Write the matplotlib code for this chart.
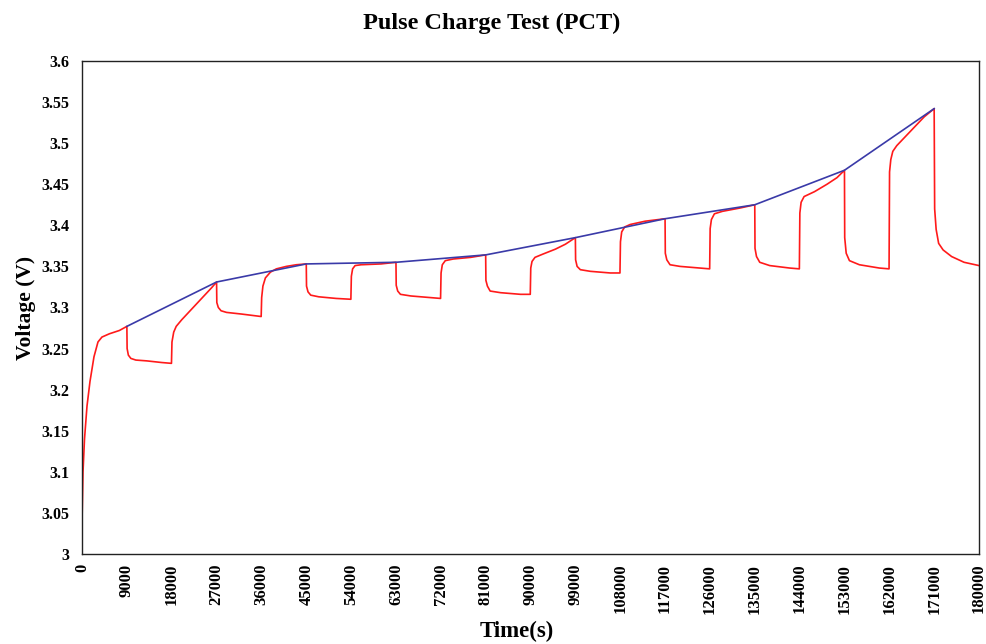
import matplotlib
matplotlib.use("Agg")
import matplotlib.pyplot as plt

plt.rcParams['font.family'] = ['Liberation Serif', 'DejaVu Serif']

# cell voltage during pulse charging (time in s, voltage in V)
time_s = [
    0, 200, 500, 1000, 1600, 2400, 3200, 4000, 5500, 7500, 9000,
    9050, 9300, 9800, 10800, 13000, 16000, 17950,
    18050, 18400, 18900, 20000, 22000, 24000, 26000, 27000,
    27050, 27350, 27900, 29000, 32000, 35950,
    36050, 36300, 36800, 37800, 39000, 41000, 43000, 45000,
    45050, 45350, 45900, 47500, 51000, 53950,
    54050, 54300, 54800, 56000, 60000, 63000,
    63050, 63350, 63900, 66000, 70000, 71950,
    72050, 72300, 72900, 74500, 78000, 81000,
    81050, 81350, 81900, 84000, 88000, 89950,
    90050, 90300, 90900, 92500, 95000, 97000, 99000,
    99050, 99350, 100000, 102000, 106000, 107950,
    108050, 108300, 108900, 110000, 113000, 117000,
    117050, 117350, 118000, 120000, 124000, 125950,
    126050, 126300, 126900, 128500, 132000, 135000,
    135050, 135350, 136000, 138000, 142000, 143950,
    144050, 144300, 144900, 147000, 149500, 151500, 153000,
    153050, 153350, 154000, 156000, 160000, 161950,
    162050, 162300, 162700, 163500, 166500, 169000, 171000,
    171100, 171400, 171900, 172800, 174500, 177000, 180000,
]
voltage = [
    3.040, 3.100, 3.140, 3.180, 3.210, 3.240, 3.258, 3.264, 3.268, 3.272, 3.277,
    3.250, 3.242, 3.238, 3.236, 3.235, 3.233, 3.232,
    3.258, 3.270, 3.277, 3.285, 3.298, 3.311, 3.324, 3.331,
    3.306, 3.300, 3.296, 3.294, 3.292, 3.289,
    3.312, 3.326, 3.336, 3.343, 3.347, 3.350, 3.352, 3.353,
    3.326, 3.319, 3.315, 3.313, 3.311, 3.310,
    3.338, 3.347, 3.351, 3.352, 3.353, 3.355,
    3.327, 3.320, 3.316, 3.314, 3.312, 3.311,
    3.342, 3.352, 3.357, 3.359, 3.361, 3.364,
    3.333, 3.326, 3.320, 3.318, 3.316, 3.316,
    3.348, 3.356, 3.361, 3.365, 3.371, 3.377, 3.385,
    3.358, 3.350, 3.346, 3.344, 3.342, 3.342,
    3.380, 3.392, 3.398, 3.401, 3.405, 3.408,
    3.366, 3.358, 3.352, 3.350, 3.348, 3.347,
    3.396, 3.407, 3.414, 3.417, 3.421, 3.425,
    3.372, 3.362, 3.355, 3.351, 3.348, 3.347,
    3.415, 3.428, 3.435, 3.441, 3.450, 3.458, 3.467,
    3.385, 3.366, 3.357, 3.352, 3.348, 3.347,
    3.465, 3.480, 3.490, 3.497, 3.516, 3.532, 3.542,
    3.420, 3.395, 3.378, 3.370, 3.362, 3.355, 3.351,
]

# voltage at the end of each charge pulse
peak_time = [9000, 27000, 45000, 63000, 81000, 99000, 117000, 135000, 153000, 171000]
peak_voltage = [3.277, 3.331, 3.353, 3.355, 3.364, 3.385, 3.408, 3.425, 3.467, 3.542]

x_ticks = list(range(0, 180001, 9000))
y_ticks = [3.0, 3.05, 3.1, 3.15, 3.2, 3.25, 3.3, 3.35, 3.4, 3.45, 3.5, 3.55, 3.6]
y_labels = ['3', '3.05', '3.1', '3.15', '3.2', '3.25', '3.3', '3.35', '3.4',
            '3.45', '3.5', '3.55', '3.6']

fig = plt.figure(figsize=(9.87, 6.44), dpi=100)
ax = fig.add_axes([0.0831, 0.1398, 0.9088, 0.7655])

ax.plot(time_s, voltage, color='#ff1a1a', lw=1.2)
ax.plot(peak_time, peak_voltage, color='#3a3aa8', lw=1.2)

ax.set_xlim(0, 180000)
ax.set_ylim(3.0, 3.6)
ax.set_xticks(x_ticks)
ax.set_xticklabels([str(t) for t in x_ticks], rotation=90, fontweight='bold', fontsize=12)
ax.set_yticks(y_ticks)
ax.set_yticklabels(y_labels, fontweight='bold', fontsize=11.5)
ax.tick_params(axis='both', length=0)
ax.tick_params(axis='y', pad=9)
ax.tick_params(axis='x', pad=7)

for sp in ax.spines.values():
    sp.set_linewidth(1.0)
    sp.set_color('#222222')

fig.text(0.4985, 0.963, 'Pulse Charge Test (PCT)', fontweight='bold', fontsize=17.5,
         ha='center', va='center')
ax.set_xlabel('Time(s)', fontweight='bold', fontsize=16.5, labelpad=4)
ax.xaxis.set_label_coords(0.485, -0.135)
ax.set_ylabel('Voltage (V)', fontweight='bold', fontsize=15.5, labelpad=4)

fig.savefig('out.png', dpi=100)
